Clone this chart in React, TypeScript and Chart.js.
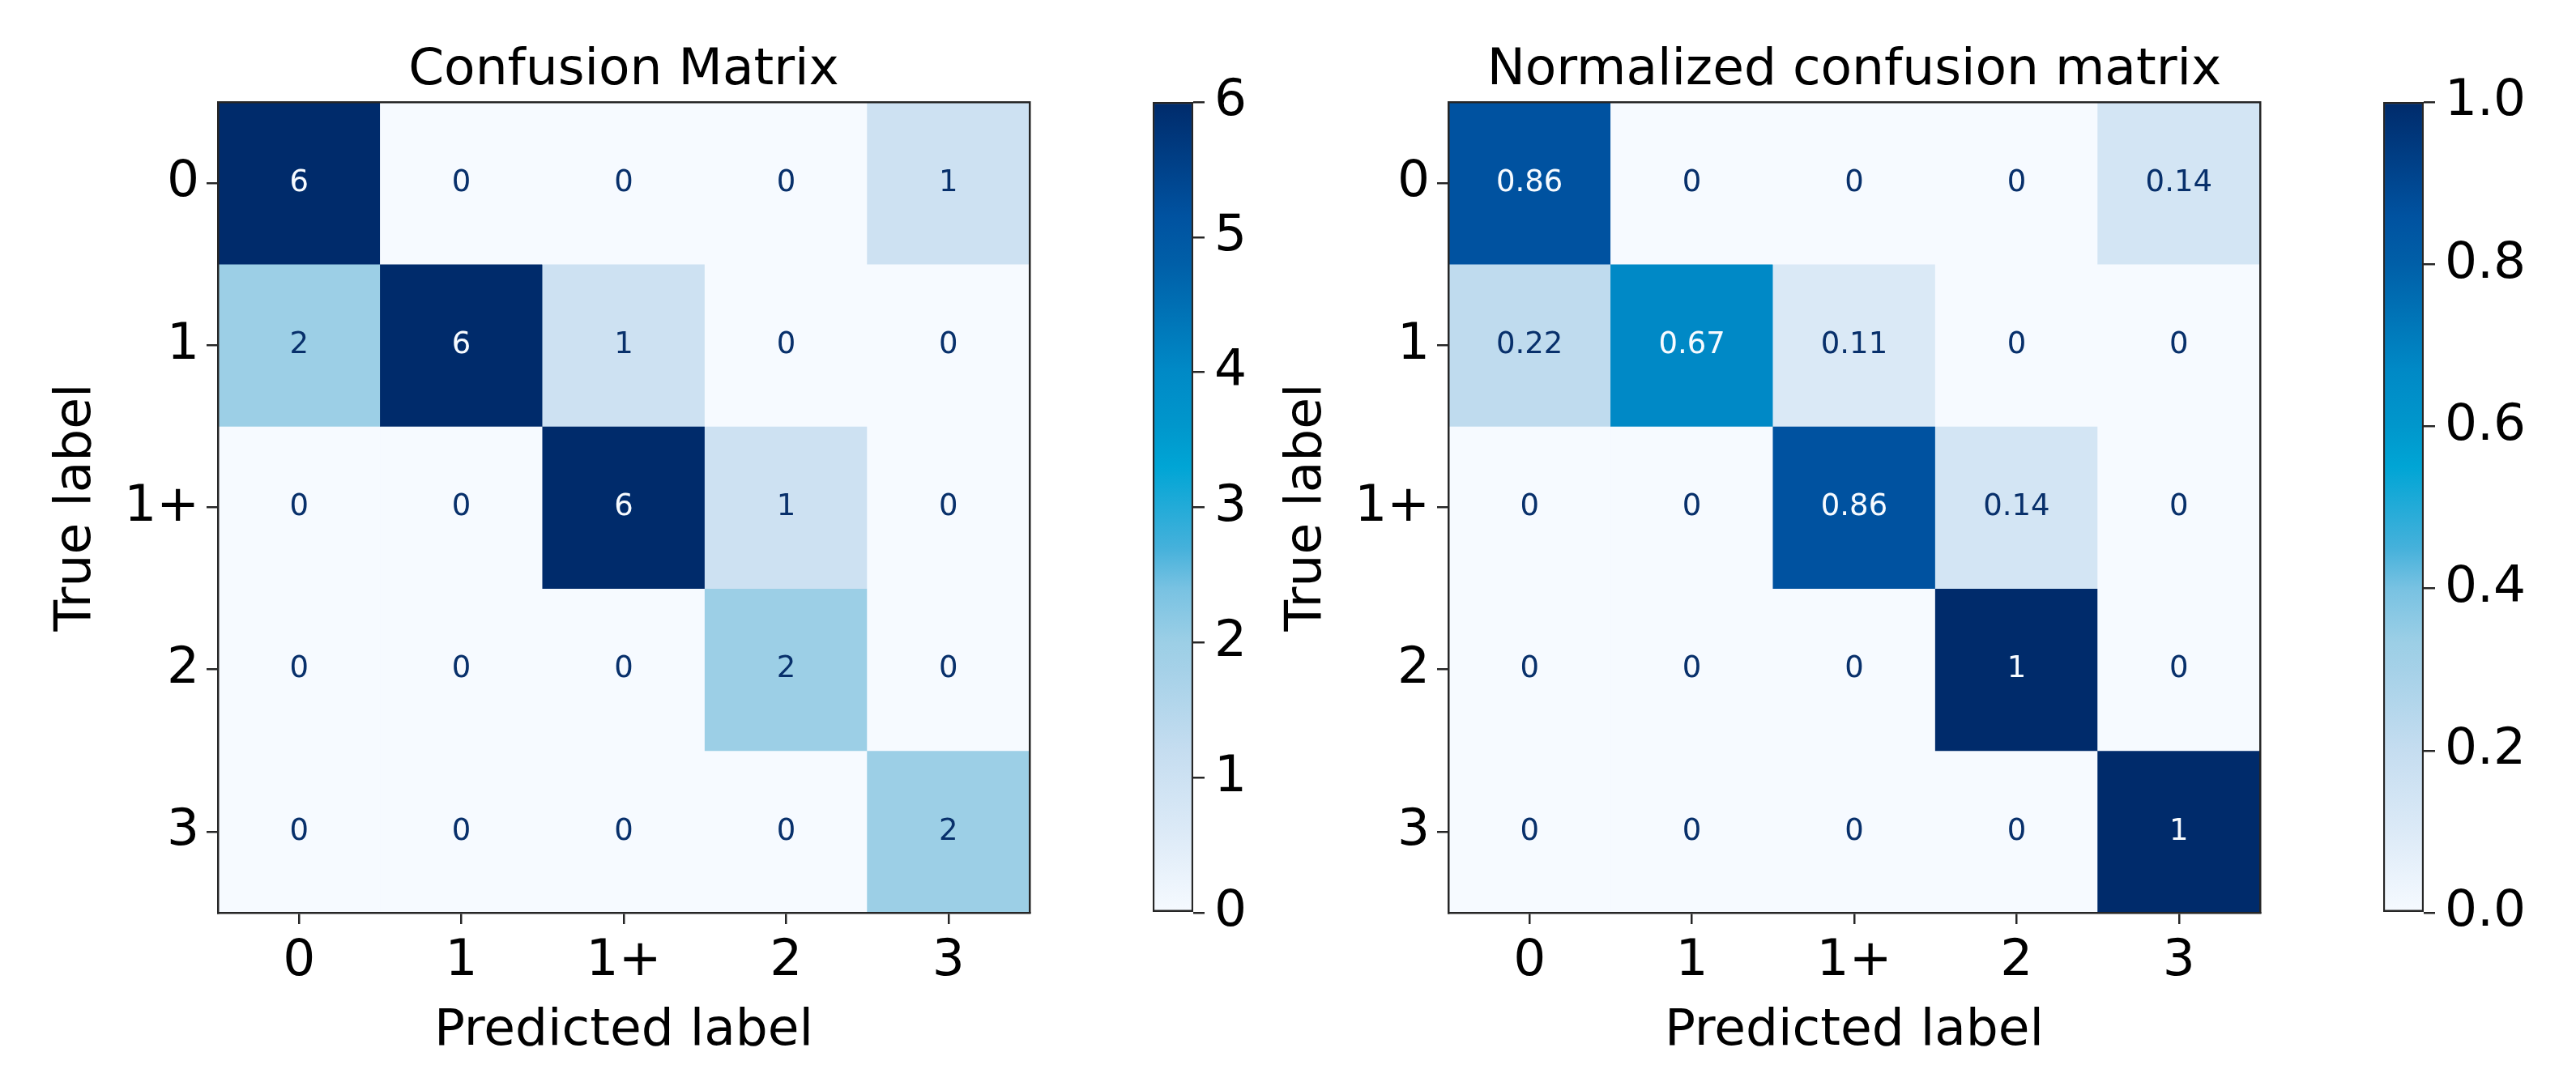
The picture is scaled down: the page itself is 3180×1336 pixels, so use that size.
import React, { useEffect, useRef } from "react";
import { Chart, registerables } from "chart.js";

Chart.register(...registerables);

// ---------------- data ----------------
const predictedLabels = ["0", "1", "1+", "2", "3"];
const trueLabels = ["0", "1", "1+", "2", "3"];

const countMatrix = [
  [6, 0, 0, 0, 1],
  [2, 6, 1, 0, 0],
  [0, 0, 6, 1, 0],
  [0, 0, 0, 2, 0],
  [0, 0, 0, 0, 2],
];

const normalizedMatrix = [
  [0.86, 0, 0, 0, 0.14],
  [0.22, 0.67, 0.11, 0, 0],
  [0, 0, 0.86, 0.14, 0],
  [0, 0, 0, 1, 0],
  [0, 0, 0, 0, 1],
];

const countTicks = [0, 1, 2, 3, 4, 5, 6];
const countTickLabels = ["0", "1", "2", "3", "4", "5", "6"];
const normTicks = [0, 0.2, 0.4, 0.6, 0.8, 1.0];
const normTickLabels = ["0.0", "0.2", "0.4", "0.6", "0.8", "1.0"];

const titleLeft = "Confusion Matrix";
const titleRight = "Normalized confusion matrix";
const xTitle = "Predicted label";
const yTitle = "True label";

// ---------------- style ----------------
const FAMILY = "'DejaVu Sans', 'Liberation Sans', sans-serif";
const BIG = 63;
const CELL = 37;
const SPINE = "#262626";
const DARK_TEXT = "#08306b";
const LIGHT_TEXT = "#f7fbff";

const cmapStops: [number, string][] = [
  [0.0, "#f6faff"],
  [0.1, "#dceaf7"],
  [0.2, "#c5ddf0"],
  [0.3, "#a5d1e8"],
  [0.333, "#9ccfe6"],
  [0.4, "#78c2e2"],
  [0.45, "#45b1db"],
  [0.55, "#00a5d5"],
  [0.6, "#0097cc"],
  [0.67, "#0089c6"],
  [0.8, "#005fa8"],
  [0.86, "#0052a0"],
  [1.0, "#002b6b"],
];

function hexToRgb(h: string) {
  const n = parseInt(h.slice(1), 16);
  return [(n >> 16) & 255, (n >> 8) & 255, n & 255];
}

function cmap(t: number) {
  const v = Math.max(0, Math.min(1, t));
  for (let i = 0; i < cmapStops.length - 1; i++) {
    const [a, ca] = cmapStops[i];
    const [b, cb] = cmapStops[i + 1];
    if (v >= a && v <= b) {
      const f = b === a ? 0 : (v - a) / (b - a);
      const A = hexToRgb(ca);
      const B = hexToRgb(cb);
      const c = A.map((x, k) => Math.round(x + (B[k] - x) * f));
      return `rgb(${c[0]},${c[1]},${c[2]})`;
    }
  }
  return cmapStops[cmapStops.length - 1][1];
}

// geometry
const PANEL_W = 1300;
const H = 1336;
const TOP = 126;
const BOTTOM = 1127;
const RIGHT_OFFSET = 1519;
const CB_LEFT = 1380;
const CB_W = 280;
const CB_AREA_RIGHT = 93;

function makeCellTextPlugin(matrix: number[][], vmax: number) {
  return {
    id: "cellText",
    afterDatasetsDraw(chart: any) {
      const { ctx } = chart;
      const xs = chart.scales.x;
      const ys = chart.scales.y;
      ctx.save();
      ctx.font = `${CELL}px ${FAMILY}`;
      ctx.textAlign = "center";
      ctx.textBaseline = "middle";
      matrix.forEach((row, i) => {
        row.forEach((v, j) => {
          const px = xs.getPixelForValue(j);
          const py = ys.getPixelForValue(i);
          ctx.fillStyle = v / vmax < 0.5 ? DARK_TEXT : LIGHT_TEXT;
          ctx.fillText(String(v), px, py);
        });
      });
      ctx.restore();
    },
  };
}

function matrixConfig(matrix: number[][], vmax: number, title: string): any {
  const font = { family: FAMILY, size: BIG, weight: "normal" as const };
  const gridOpts = {
    display: true,
    drawOnChartArea: false,
    drawTicks: true,
    tickLength: 14,
    color: SPINE,
    lineWidth: 2.5,
    offset: false,
  };
  const borderOpts = { display: true, color: SPINE, width: 2.5, z: 1 };
  const datasets = matrix.map((row, i) => ({
    label: trueLabels[i],
    xAxisID: "x",
    yAxisID: "y",
    data: row.map(() => [i - 0.5, i + 0.5]),
    backgroundColor: row.map((v) => cmap(v / vmax)),
    borderWidth: 0,
    grouped: false,
    barPercentage: 1,
    categoryPercentage: 1,
  }));
  return {
    type: "bar",
    data: { labels: predictedLabels, datasets },
    options: {
      animation: false,
      responsive: false,
      devicePixelRatio: 1,
      events: [],
      layout: { padding: { left: 0, right: 29, top: 0, bottom: 0 } },
      plugins: {
        legend: { display: false },
        tooltip: { enabled: false },
        title: { display: false },
      },
      scales: {
        x: {
          type: "category",
          position: "bottom",
          offset: true,
          grid: gridOpts,
          border: borderOpts,
          ticks: { font, color: "#000", padding: 9, maxRotation: 0, autoSkip: false },
          title: {
            display: true,
            text: xTitle,
            font,
            color: "#000",
            padding: { top: 0, bottom: 25 },
          },
          afterFit: (s: any) => {
            s.height = H - BOTTOM;
          },
        },
        y: {
          type: "linear",
          position: "left",
          min: -0.5,
          max: 4.5,
          reverse: true,
          afterBuildTicks: (s: any) => {
            s.ticks = trueLabels.map((_, i) => ({ value: i }));
          },
          ticks: {
            font,
            color: "#000",
            padding: 9,
            callback: (_v: any, i: number) => trueLabels[i],
          },
          grid: gridOpts,
          border: borderOpts,
          title: {
            display: true,
            text: yTitle,
            font,
            color: "#000",
            padding: { top: 57, bottom: 0 },
          },
          afterFit: (s: any) => {
            s.width = 269;
          },
        },
        x2: {
          type: "category",
          position: "top",
          offset: true,
          ticks: { display: false },
          grid: { display: false, drawTicks: false },
          border: borderOpts,
          title: {
            display: true,
            text: title,
            font,
            color: "#000",
            padding: { top: 49.5, bottom: 0 },
          },
          afterFit: (s: any) => {
            s.height = TOP;
          },
        },
        y2: {
          type: "linear",
          position: "right",
          ticks: { display: false },
          grid: { display: false, drawTicks: false },
          border: borderOpts,
          afterFit: (s: any) => {
            s.width = 0;
          },
        },
      },
    },
    plugins: [makeCellTextPlugin(matrix, vmax)],
  };
}

function colorbarConfig(vmax: number, ticks: number[], labels: string[]): any {
  const font = { family: FAMILY, size: BIG, weight: "normal" as const };
  return {
    type: "bar",
    data: {
      labels: [""],
      datasets: [
        {
          data: [[0, vmax]],
          backgroundColor: (c: any) => {
            const chart = c.chart;
            const area = chart.chartArea;
            if (!area) return cmap(0.5);
            const g = chart.ctx.createLinearGradient(0, area.bottom, 0, area.top);
            cmapStops.forEach(([s, col]) => g.addColorStop(s, col));
            return g;
          },
          borderWidth: 2.5,
          borderColor: SPINE,
          borderSkipped: false,
          barPercentage: 1,
          categoryPercentage: 1,
        },
      ],
    },
    options: {
      animation: false,
      responsive: false,
      devicePixelRatio: 1,
      events: [],
      layout: { padding: { left: 43, right: 0, top: TOP, bottom: H - BOTTOM } },
      plugins: { legend: { display: false }, tooltip: { enabled: false } },
      scales: {
        x: { display: false, offset: true },
        y: {
          position: "right",
          min: 0,
          max: vmax,
          afterBuildTicks: (s: any) => {
            s.ticks = ticks.map((v) => ({ value: v }));
          },
          ticks: {
            font,
            color: "#000",
            padding: 12,
            callback: (_v: any, i: number) => labels[i],
          },
          grid: {
            display: true,
            drawOnChartArea: false,
            drawTicks: true,
            tickLength: 14,
            color: SPINE,
            lineWidth: 2.5,
          },
          border: { display: false },
          afterFit: (s: any) => {
            s.width = CB_W - CB_AREA_RIGHT;
          },
        },
      },
    },
  };
}

function ChartCanvas({ config, left, width }: { config: () => any; left: number; width: number }) {
  const ref = useRef<HTMLCanvasElement | null>(null);
  useEffect(() => {
    if (!ref.current) return;
    const chart = new Chart(ref.current, config());
    return () => chart.destroy();
  }, []);
  return (
    <canvas
      ref={ref}
      width={width}
      height={H}
      style={{ position: "absolute", left, top: 0, width, height: H, display: "block" }}
    />
  );
}

export default function App() {
  return (
    <div
      style={{
        position: "absolute",
        left: 0,
        top: 0,
        width: 3180,
        height: H,
        background: "#fff",
        overflow: "hidden",
      }}
    >
      <ChartCanvas left={0} width={PANEL_W} config={() => matrixConfig(countMatrix, 6, titleLeft)} />
      <ChartCanvas left={CB_LEFT} width={CB_W} config={() => colorbarConfig(6, countTicks, countTickLabels)} />
      <ChartCanvas
        left={RIGHT_OFFSET}
        width={PANEL_W}
        config={() => matrixConfig(normalizedMatrix, 1, titleRight)}
      />
      <ChartCanvas
        left={CB_LEFT + RIGHT_OFFSET}
        width={CB_W}
        config={() => colorbarConfig(1, normTicks, normTickLabels)}
      />
    </div>
  );
}
